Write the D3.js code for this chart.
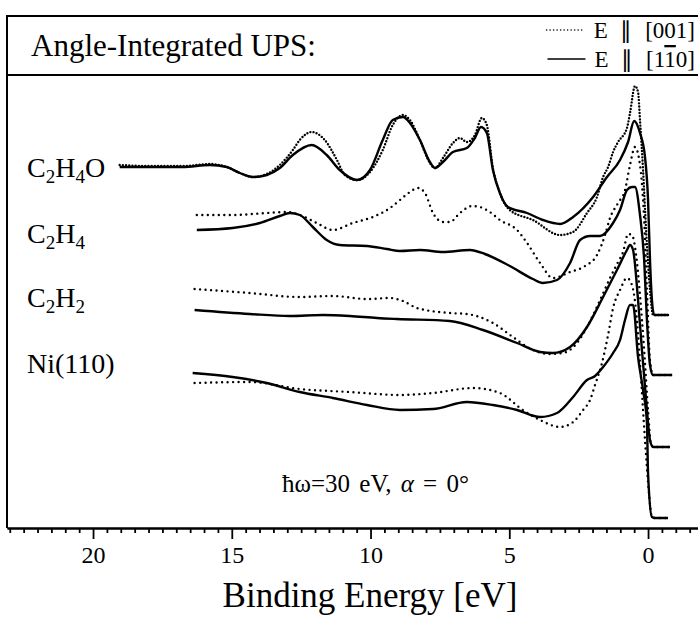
<!DOCTYPE html>
<html><head><meta charset="utf-8">
<script src="https://cdn.jsdelivr.net/npm/d3@7"></script>
<style>
body{margin:0;background:#fff}
svg{display:block}
text{font-family:"Liberation Serif","Times New Roman",serif;fill:#000}
</style>
</head><body>
<svg id="c" width="698" height="622"></svg>
<script>
// ---- data (binding energy [eV], intensity [arb. units incl. offset]) ----
const majorTicks = [20, 15, 10, 5, 0];
const minorStep = 0.5;
const legendLabels = ["E \u2225 [001]", "E \u2225 [1\u03050]"];
const speciesNames = ["C2H4O", "C2H4", "C2H2", "Ni(110)"];

const c2h4oSolid = [[19.04,361],[17.96,361],[16.77,361],[15.79,363],[15.18,361],[14.71,355],[14.24,351],[13.74,353],[13.27,360],[12.80,373],[12.12,383],[11.58,373],[11.11,358],[10.49,348],[10.02,358],[9.56,388],[9.20,408],[8.83,411],[8.58,405],[8.22,388],[7.86,366],[7.68,360],[7.39,366],[7.03,376],[6.53,380],[6.24,390],[6.02,401],[5.81,395],[5.59,358],[5.34,335],[5.05,321],[4.36,315],[3.79,308],[3.17,304],[2.70,311],[1.98,331],[1.48,351],[1.01,368],[0.72,386],[0.50,407],[0.29,395],[0.11,371],[0.00,328],[-0.07,268],[-0.14,228],[-0.22,213],[-0.72,213]];
const c2h4oDotted = [[19.04,363],[17.96,362],[16.77,362],[15.79,364],[15.18,361],[14.71,355],[14.24,351],[13.74,354],[13.27,363],[12.80,378],[12.55,388],[12.12,396],[11.65,388],[11.21,368],[10.93,353],[10.49,348],[10.02,356],[9.56,378],[9.20,403],[8.83,413],[8.58,408],[8.22,388],[7.86,365],[7.68,360],[7.39,370],[7.03,385],[6.78,390],[6.53,386],[6.24,393],[5.99,410],[5.81,403],[5.59,360],[5.34,335],[4.98,318],[4.15,308],[3.17,293],[2.70,296],[2.20,315],[1.84,331],[1.62,351],[1.44,361],[1.26,376],[1.08,386],[0.76,400],[0.65,415],[0.47,442],[0.36,436],[0.29,408],[0.18,358],[0.07,298],[-0.07,238],[-0.18,213],[-0.72,213]];
const c2h4Solid = [[16.26,298],[14.97,300],[13.99,305],[13.27,312],[12.91,315],[12.55,313],[12.08,301],[11.58,288],[11.11,283],[10.13,282],[9.41,279],[8.94,277],[8.22,278],[7.39,276],[6.42,278],[5.88,274],[4.98,262],[4.15,249],[3.79,245],[3.28,248],[2.81,265],[2.45,288],[2.09,292],[1.73,292],[1.26,305],[1.01,318],[0.76,338],[0.58,341],[0.47,341],[0.29,313],[0.14,268],[0.04,208],[-0.07,163],[-0.18,153],[-0.87,153]];
const c2h4Dotted = [[16.26,313],[14.97,313],[13.74,315],[13.02,316],[12.55,313],[11.94,305],[11.36,298],[10.64,305],[9.92,311],[9.30,320],[8.94,328],[8.58,336],[8.29,340],[8.04,335],[7.75,315],[7.39,306],[7.14,306],[6.78,315],[6.35,322],[6.06,321],[5.70,316],[5.34,308],[4.72,298],[4.36,285],[3.89,265],[3.43,250],[2.81,256],[2.27,262],[1.84,273],[1.55,293],[1.37,310],[1.08,325],[0.83,338],[0.65,363],[0.47,381],[0.29,363],[0.14,308],[0.04,238],[-0.07,168],[-0.18,153],[-0.87,153]];
const c2h2Solid = [[16.34,218],[14.35,214],[12.91,212],[11.72,213],[10.75,212],[9.77,210],[9.05,209],[7.14,207],[5.95,198],[4.72,185],[3.89,176],[3.43,175],[2.81,181],[2.20,201],[1.62,231],[1.12,258],[0.76,278],[0.65,283],[0.54,278],[0.36,228],[0.22,178],[0.07,128],[-0.07,88],[-0.18,81],[-0.79,81]];
const c2h2Dotted = [[16.34,239],[14.35,235],[12.55,231],[11.36,232],[10.13,229],[9.30,230],[8.83,227],[8.33,220],[7.14,215],[6.53,214],[5.59,205],[4.87,191],[4.15,178],[3.53,174],[3.07,175],[2.56,185],[2.20,201],[1.73,228],[1.37,250],[1.08,266],[0.90,276],[0.72,294],[0.58,293],[0.43,273],[0.29,233],[0.14,178],[0.00,118],[-0.11,83],[-0.25,81],[-0.79,81]];
const niSolid = [[16.41,155],[14.97,151],[13.74,145],[12.55,136],[11.36,130],[10.13,123],[8.94,118],[7.75,119],[6.53,126],[5.59,123],[4.72,118],[3.89,111],[3.28,115],[2.70,131],[2.20,148],[1.91,152],[1.62,161],[1.26,175],[1.01,188],[0.83,208],[0.65,223],[0.54,223],[0.36,171],[0.18,138],[0.04,105],[0.00,55],[-0.14,11],[-0.25,10],[-0.72,10]];
const niDotted = [[16.34,145],[14.35,146],[12.55,139],[10.75,136],[8.94,133],[7.75,135],[6.31,140],[5.34,135],[4.51,118],[3.89,108],[3.17,101],[2.70,106],[2.34,118],[2.09,128],[1.91,143],[1.66,165],[1.44,193],[1.26,220],[1.01,238],[0.76,250],[0.58,243],[0.40,208],[0.25,148],[0.11,88],[-0.04,33],[-0.14,11],[-0.25,10],[-0.72,10]];

const solidSeries = [c2h4oSolid, c2h4Solid, c2h2Solid, niSolid];
const dottedSeries = [c2h4oDotted, c2h4Dotted, c2h2Dotted, niDotted];

// ---- layout ----
const svg = d3.select("#c");
const W = 698, H = 622;
const frameLeft = 7, frameTop = 16, headerBottom = 75, axisY = 528;

const x = d3.scaleLinear().domain([23.1, -1.8]).range([frameLeft, W]);
const y = d3.scaleLinear().domain([0, 512]).range([axisY, frameTop]);

// frame
svg.append("path")
  .attr("d", `M${frameLeft},${axisY} L${frameLeft},${frameTop} L${W},${frameTop}`)
  .attr("fill", "none").attr("stroke", "#000").attr("stroke-width", 2);
svg.append("line").attr("x1", frameLeft).attr("x2", W).attr("y1", headerBottom).attr("y2", headerBottom)
  .attr("stroke", "#000").attr("stroke-width", 2);

// header title
svg.append("text").attr("x", 31).attr("y", 56).attr("font-size", 31).text("Angle-Integrated UPS:");

// legend
const leg = svg.append("g");
const legYs = [38, 67];
legendLabels.forEach((lab, i) => {
  const t = leg.append("text").attr("x", 695).attr("y", legYs[i]).attr("font-size", 23)
    .attr("text-anchor", "end").attr("word-spacing", 7);
  if (i === 0) t.text(lab);
  else {
    t.append("tspan").text("E \u2225 [1");
    t.append("tspan").style("text-decoration", "overline").text("1");
    t.append("tspan").text("0]");
  }
  const w = t.node().getComputedTextLength();
  const x1 = 695 - w - 9;
  leg.append("line").attr("x1", x1 - 38).attr("x2", x1).attr("y1", legYs[i] - 8).attr("y2", legYs[i] - 8)
    .attr("stroke", "#000").attr("stroke-width", 1.6)
    .attr("stroke-dasharray", i === 0 ? "0 3.5" : null)
    .attr("stroke-linecap", i === 0 ? "round" : "butt");
});

// axis
const minorTicks = d3.range(-1.5, 23.01, minorStep).filter(v => !majorTicks.includes(v));
const gMinor = svg.append("g").attr("transform", `translate(0,${axisY})`)
  .call(d3.axisBottom(x).tickValues(minorTicks).tickSize(5).tickSizeOuter(0).tickFormat(""));
const gMajor = svg.append("g").attr("transform", `translate(0,${axisY})`)
  .call(d3.axisBottom(x).tickValues(majorTicks).tickSize(11).tickSizeOuter(0).tickPadding(7).tickFormat(d3.format("d")));
[gMinor, gMajor].forEach(g => {
  g.select(".domain").attr("stroke-width", 2.2);
  g.selectAll(".tick line").attr("stroke-width", 1.8);
});
gMajor.selectAll(".tick text").attr("font-size", 24)
  .attr("font-family", '"Liberation Serif","Times New Roman",serif');

svg.append("text").attr("x", 370).attr("y", 607).attr("text-anchor", "middle")
  .attr("font-size", 35).text("Binding Energy [eV]");

// species labels
const labelYs = [177, 243, 307, 373];
const subs = [["C","2","H","4","O"],["C","2","H","4"],["C","2","H","2"],["Ni(110)"]];
subs.forEach((parts, i) => {
  const t = svg.append("text").attr("x", 27).attr("y", labelYs[i]).attr("font-size", 28);
  let sub = false;
  parts.forEach((p) => {
    const isSub = /^[0-9]$/.test(p);
    const ts = t.append("tspan").text(p);
    if (isSub) { ts.attr("font-size", 19).attr("dy", 6); sub = true; }
    else if (sub) { ts.attr("dy", -6); sub = false; }
  });
});

// curves
const line = d3.line().x(d => x(d[0])).y(d => y(d[1])).curve(d3.curveMonotoneX);
solidSeries.forEach(s => {
  svg.append("path").attr("d", line(s)).attr("fill", "none").attr("stroke", "#000")
    .attr("stroke-width", 2.4).attr("stroke-linejoin", "round");
});
dottedSeries.forEach((s, i) => {
  svg.append("path").attr("d", line(s)).attr("fill", "none").attr("stroke", "#000")
    .attr("stroke-width", 2.4).attr("stroke-linecap", "round")
    .attr("stroke-dasharray", i === 0 ? "0 3.2" : "0 5.5");
});

// annotation
const ann = svg.append("text").attr("x", 282).attr("y", 492).attr("font-size", 25).attr("word-spacing", 3);
ann.append("tspan").text("\u0127\u03c9=30 eV, ");
ann.append("tspan").attr("font-style", "italic").text("\u03b1");
ann.append("tspan").text(" = 0\u00b0");
</script>
</body></html>
